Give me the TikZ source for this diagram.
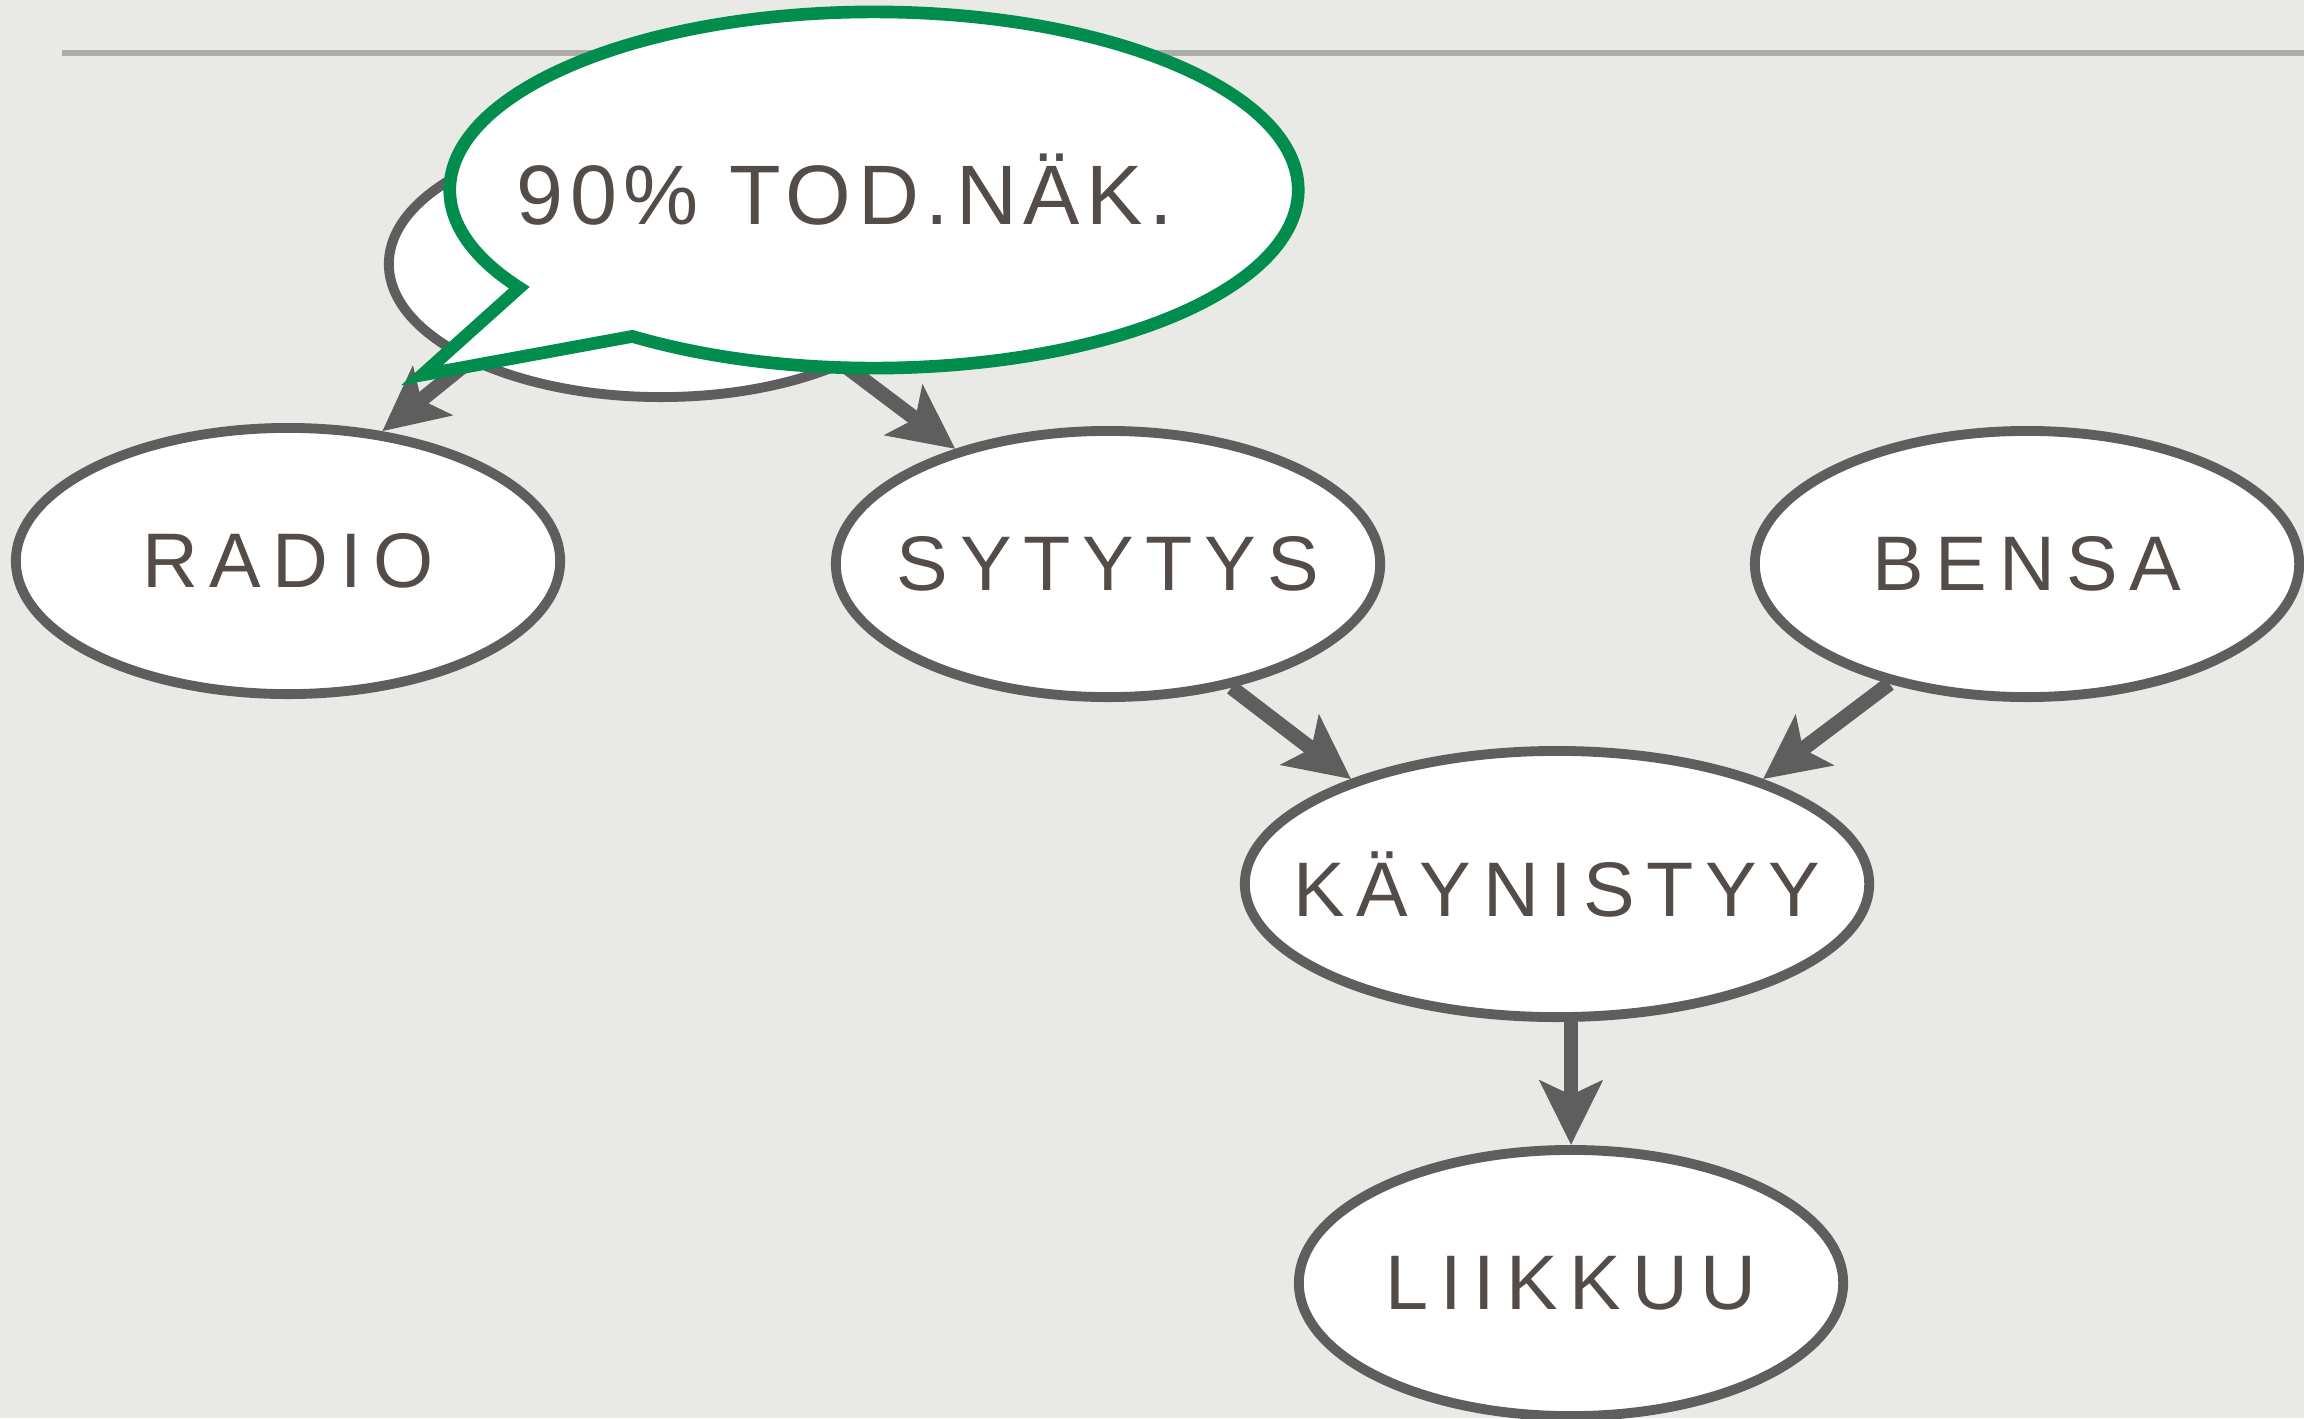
\documentclass[tikz,border=0pt]{standalone}
\usepackage{fontspec}
\newfontfamily\nodefont{Liberation Sans}[LetterSpace=15]
\newfontfamily\bubblefont{Liberation Sans}[LetterSpace=8]
\usetikzlibrary{arrows.meta,shapes.geometric,shapes.callouts}

\definecolor{paper}{RGB}{233,234,229}
\definecolor{rim}{RGB}{94,94,94}
\definecolor{ink}{RGB}{84,76,72}
\definecolor{leaf}{RGB}{0,141,78}
\definecolor{rulegray}{RGB}{172,172,170}

% text that does not widen its ellipse
\newcommand\lbl[1]{\makebox[0pt]{#1}}

\tikzset{
  state/.style={ellipse, draw=rim, line width=2.8pt, fill=white, inner sep=0pt,
    minimum width=5.44cm, minimum height=2.66cm, text=ink,
    font=\nodefont\fontsize{22}{26}\selectfont},
  link/.style={draw=rim, line width=4.2pt,
    -{Stealth[length=6.4mm, width=6.2mm, inset=1.4mm]}},
  bubble/.style={ellipse callout, draw=leaf, line width=3.6pt, fill=white,
    inner sep=0pt, minimum width=8.48cm, minimum height=3.56cm,
    callout pointer arc=22, text=ink,
    font=\bubblefont\fontsize{24}{28}\selectfont}
}

\begin{document}
\begin{tikzpicture}[x=0.01cm, y=-0.01cm]
            \useasboundingbox (0,0) rectangle (2304,1418);
            \fill [paper] (0,0) rectangle (2304,1418);
            \draw [rulegray, line width=1.6pt] (62,53) -- (2304,53);

            % the nodes
            \node [state] (top) at (661,264) {};
            \node [state] (radio) at (288,561) {\lbl{RADIO}};
            \node [state] (sytytys) at (1108,564) {\lbl{SYTYTYS}};
            \node [state] (bensa) at (2027,564) {\lbl{BENSA}};
            \node [state, minimum width=6.24cm] (kaynnistyy) at (1557,884) {\lbl{KÄYNISTYY}};
            \node [state] (liikkuu) at (1571,1283) {\lbl{LIIKKUU}};

            % the links
            \draw [link] (top.207) -- (radio.54);
            \draw [link] (top.331) -- (sytytys.143);
            \draw [link] (sytytys.315) -- (kaynnistyy.153);
            \draw [link] (bensa.221) -- (kaynnistyy.27);
            \draw [link] (kaynnistyy.south -| liikkuu.north) -- (liikkuu.north);

            % the callout
            \coordinate (tailtip) at (422,375);
            \node [bubble, callout absolute pointer={(tailtip)}] (note) at (874,190) {\lbl{90\% TOD.NÄK.\hspace{0.58cm}}};
        \end{tikzpicture}
\end{document}
